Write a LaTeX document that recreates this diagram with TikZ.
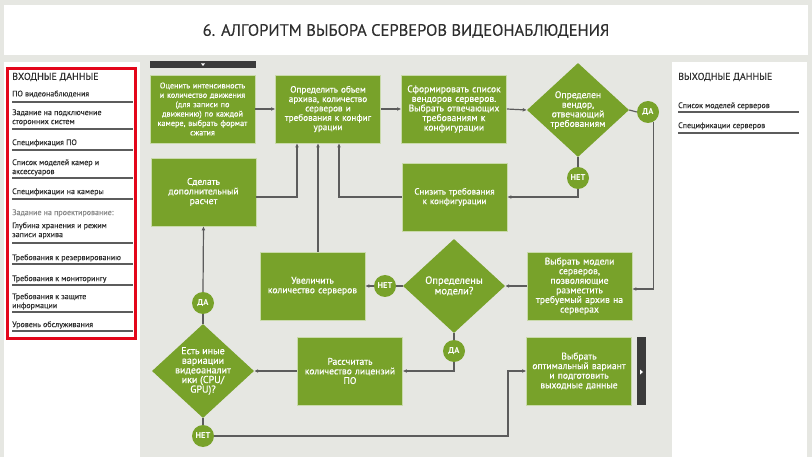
\documentclass[tikz,border=0pt]{standalone}
\usepackage{fontspec}
\setmainfont{PT Sans}
\newfontfamily\medfont[FakeBold=0.5]{PT Sans}
\newfontfamily\lblfont[FakeBold=0.25]{PT Sans}
\usetikzlibrary{shapes.geometric,arrows.meta}
\definecolor{bg}{HTML}{E6E7E2}
\definecolor{grn}{HTML}{78A22A}
\definecolor{lnc}{HTML}{5C5C5C}
\definecolor{dk}{HTML}{3B3B3B}
\definecolor{txt}{HTML}{2E2E2E}
\definecolor{graytxt}{HTML}{8A8A8A}
\definecolor{redb}{HTML}{E3061A}
\begin{document}
\begin{tikzpicture}[x=1pt,y=-1pt,
  box/.style={fill=grn, draw=white!60!grn, line width=0.6pt, minimum width=105pt, minimum height=68pt,
    text width=102pt, align=center, text=white, inner sep=0pt, font=\medfont\fontsize{9.6}{9.6}\selectfont},
  dia/.style={diamond, fill=grn, minimum width=102pt, minimum height=94pt, inner sep=0pt},
  dtext/.style={align=center, text=white, inner sep=0pt, font=\medfont\fontsize{9.6}{9.6}\selectfont},
  yn/.style={circle, fill=grn, minimum size=22pt, inner sep=0pt, text=white, font=\bfseries\fontsize{8.5}{9}\selectfont},
  conn/.style={draw=lnc, line width=1.2pt},
  arr/.style={conn, -{Latex[length=4pt,width=3.8pt]}},
  lbl/.style={anchor=west, align=left, inner sep=0pt, text=txt, font=\lblfont\fontsize{8}{9}\selectfont},
  hd/.style={anchor=west, inner sep=0pt, text=txt, font=\lblfont\fontsize{10}{11}\selectfont},
  uline/.style={draw=lnc, line width=1.2pt}]
% background
\fill[bg] (0,0) rectangle (812,457);
\useasboundingbox (0,0) rectangle (812,457);
% title
\fill[white] (4,5) rectangle (808,55);
\node[inner sep=0pt, text=txt, font=\lblfont\fontsize{16.5}{18}\selectfont] (title) at (406,31) {6. АЛГОРИТМ ВЫБОРА СЕРВЕРОВ ВИДЕОНАБЛЮДЕНИЯ};
% left panel
\fill[white] (4,62) rectangle (140,457);
\draw[redb, line width=3pt] (7.5,68.5) rectangle (135.5,338.5);
\node[hd] (inhd) at (12,77) {ВХОДНЫЕ ДАННЫЕ};
\node[lbl] (i1) at (12,94) {ПО видеонаблюдения};
\draw[uline] (12,102) -- (133,102);
\node[lbl] (i2) at (12,117.5) {Задание на подключение\\сторонних систем};
\draw[uline] (12,129) -- (133,129);
\node[lbl] (i3) at (12,143) {Спецификация ПО};
\draw[uline] (12,150) -- (133,150);
\node[lbl] (i4) at (12,167.5) {Список моделей камер и\\аксессуаров};
\draw[uline] (12,178) -- (133,178);
\node[lbl] (i5) at (12,192) {Спецификации на камеры};
\draw[uline] (12,199) -- (133,199);
\node[lbl, text=graytxt] (i6) at (12,213) {Задание на проектирование:};
\node[lbl] (i7) at (12,230.5) {Глубина хранения и режим\\записи архива};
\draw[uline] (12,243) -- (133,243);
\node[lbl] (i8) at (12,258) {Требования к резервированию};
\draw[uline] (12,264) -- (133,264);
\node[lbl] (i9) at (12,279) {Требования к мониторингу};
\draw[uline] (12,285) -- (133,285);
\node[lbl] (i10) at (12,301.5) {Требования к защите\\информации};
\draw[uline] (12,312) -- (133,312);
\node[lbl] (i11) at (12,325) {Уровень обслуживания};
\draw[uline] (12,331) -- (133,331);
% right panel
\fill[white] (672,62) rectangle (807,457);
\node[hd] (outhd) at (678,77) {ВЫХОДНЫЕ ДАННЫЕ};
\node[lbl] (o1) at (678,106) {Список моделей серверов};
\draw[uline] (678,112) -- (799,112);
\node[lbl] (o2) at (678,126) {Спецификации серверов};
\draw[uline] (678,133) -- (799,133);
% dark bars
\fill[dk] (150,61) rectangle (256,68);
\fill[white] (201,63.5) -- (205,63.5) -- (203,66) -- cycle;
\fill[dk] (637,337) rectangle (646,405);
\fill[white] (640,369.5) -- (640,374.5) -- (643,372) -- cycle;
% boxes
\node[box, font=\medfont\fontsize{8.2}{9.4}\selectfont] (b1) at (202.5,109) {Оценить интенсивность\\и количество движения\\(для записи по\\движению) по каждой\\камере, выбрать формат\\сжатия};
\node[box, font=\medfont\fontsize{9.2}{9.4}\selectfont] (b2) at (328,109) {Определить объем\\архива, количество\\серверов и\\требования к конфиг\\урации};
\node[box] (b3) at (454,109) {Сформировать список\\вендоров серверов.\\Выбрать отвечающих\\требованиям к\\конфигурации};
\node[box] (extra) at (203.5,192) {Сделать\\дополнительный\\расчет};
\node[box, font=\medfont\fontsize{9}{9.6}\selectfont] (reduce) at (454.5,197) {Снизить требования\\к конфигурации};
\node[box] (incr) at (312.5,286) {Увеличить\\количество серверов};
\node[box] (models) at (579.5,286) {Выбрать модели\\серверов,\\позволяющие\\разместить\\требуемый архив на\\серверах};
\node[box] (calc) at (350,371) {Рассчитать\\количество лицензий\\ПО};
\node[box] (opt) at (579,371) {Выбрать\\оптимальный вариант\\и подготовить\\выходные данные};
% diamonds
\node[dia] (d1) at (578,110) {};
\node[dtext] (d1t) at (d1) {Определен\\вендор,\\отвечающий\\требованиям};
\node[dia] (d2) at (454,286) {};
\node[dtext, font=\medfont\fontsize{10.5}{10.5}\selectfont] (d2t) at (d2) {Определены\\модели?};
\node[dia] (d3) at (203,371) {};
\node[dtext, font=\medfont\fontsize{10}{9.6}\selectfont] (d3t) at (d3) {Есть иные\\вариации\\видеоаналит\\ики (CPU/\\GPU)?};
% yes/no circles
\node[yn] (da1) at (648,112) {ДА};
\node[yn] (net1) at (578,178) {НЕТ};
\node[yn] (net2) at (385,286) {НЕТ};
\node[yn] (da2) at (454,351) {ДА};
\node[yn] (da3) at (203,303) {ДА};
\node[yn] (net3) at (203,436) {НЕТ};
% junction coordinates
\coordinate (j1) at (297,197);
\coordinate (j2) at (339,197);
\coordinate (j3) at (318,252);
\coordinate (j4) at (654,289);
\coordinate (j5) at (508,436);
% connectors
\draw[arr] (b1.east) -- (b2.west);
\draw[arr] (b2.east) -- (b3.west);
\draw[arr] (b3.east) -- (d1.west);
\draw[conn] (d1.east) -- (da1.west);
\draw[arr] (da1.-60) -- (da1.-60 |- j4) -- (j4 -| models.east);
\draw[conn] (d1.south) -- (net1.north);
\draw[arr] (net1.south) |- (reduce.east);
\draw[arr] (reduce.west) -- (j2) -- (j2 |- b2.south);
\draw[arr] (extra.east |- j1) -- (j1) -- (j1 |- b2.south);
\draw[arr] (j3) -- (j3 |- b2.south);
\draw[arr] (models.west) -- (d2.east);
\draw[conn] (d2.west) -- (net2.east);
\draw[arr] (net2.west) -- (incr.east);
\draw[conn] (d2.south) -- (da2.north);
\draw[arr] (da2.south) |- (calc.east);
\draw[arr] (calc.west) -- (d3.east);
\draw[conn] (d3.north) -- (da3.south);
\draw[arr] (da3.north) -- (extra.south);
\draw[conn] (d3.south) -- (net3.north);
\draw[arr] (net3.east) -- (j5) |- (opt.west);
\end{tikzpicture}
\end{document}
